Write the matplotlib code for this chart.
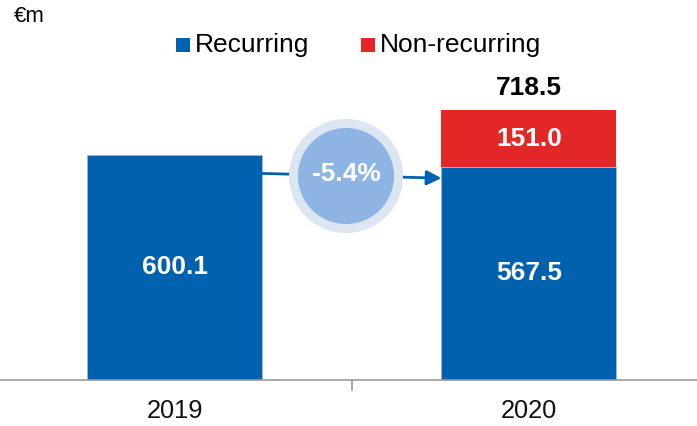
import matplotlib
matplotlib.use("Agg")
import matplotlib.pyplot as plt
from matplotlib.patches import Ellipse, Rectangle

plt.rcParams['font.family'] = ['Liberation Sans', 'DejaVu Sans']

years = ["2019", "2020"]
recurring = [600.1, 567.5]
non_recurring = [0.0, 151.0]
totals = [None, 718.5]
change_label = "-5.4%"

BLUE = "#0061AF"
RED = "#E32726"
W, H = 697, 426

fig = plt.figure(figsize=(W / 100, H / 100), dpi=100)
ax = fig.add_axes([0, 46 / H, 1, 380 / H])
x = list(range(len(years)))
bw = 0.494
ax.bar(x, recurring, width=bw, color=BLUE, edgecolor="#9DB9DD", linewidth=0.6, zorder=2)
ax.bar(x, non_recurring, width=bw, bottom=recurring, color=RED, edgecolor="none", zorder=2)
ax.set_xlim(-0.494, 1.475)
ax.set_ylim(0, 1012)

for s in ["top", "right", "left"]:
    ax.spines[s].set_visible(False)
ax.spines["bottom"].set_color("#999999")
ax.spines["bottom"].set_linewidth(1.2)
ax.set_yticks([])
ax.set_xticks([0.5])
ax.set_xticklabels([""])
ax.tick_params(axis="x", length=8, width=1.2, color="#999999")
for xi, yr in zip(x, years):
    ax.text(xi, -82, yr, ha="center", va="center", fontsize=18.3, color="#111111")

# bar labels
for xi, r, n in zip(x, recurring, non_recurring):
    ax.text(xi, r / 2, f"{r:.1f}", ha="center", va="center", fontsize=19,
            fontweight="bold", color="white", zorder=4)
    if n > 0:
        ax.text(xi, r + n / 2, f"{n:.1f}", ha="center", va="center", fontsize=19,
                fontweight="bold", color="white", zorder=4)
for xi, t in zip(x, totals):
    if t is not None:
        ax.text(xi, t + 58, f"{t:.1f}", ha="center", va="center", fontsize=19,
                fontweight="bold", color="black")

# arrow from 2019 bar to 2020 bar
ax.annotate("", xy=(1 - bw / 2, recurring[1] - 30), xytext=(bw / 2, recurring[0] - 50),
            arrowprops=dict(arrowstyle="-|>", color=BLUE, lw=2, mutation_scale=22,
                            shrinkA=0, shrinkB=0), zorder=3)

# change bubble
cx, cy = 346 / W, 1 - 176 / H
fig.patches.append(Ellipse((cx, cy), 114 / W, 114 / H, transform=fig.transFigure,
                           facecolor="#DCE5F2", edgecolor="none", zorder=5))
fig.patches.append(Ellipse((cx, cy), 96 / W, 96 / H, transform=fig.transFigure,
                           facecolor="#8EB4E3", edgecolor="none", zorder=6))
fig.text(cx, 1 - 174 / H, change_label, ha="center", va="center", fontsize=19,
         fontweight="bold", color="white", zorder=7)

# unit label
fig.text(14 / W, 1 - 17 / H, "€m", ha="left", va="center", fontsize=16, color="black")

# legend
legend_items = [("Recurring", BLUE, 176), ("Non-recurring", RED, 361)]
for label, col, px in legend_items:
    fig.patches.append(Rectangle((px / W, 1 - 52 / H), 14 / W, 14 / H,
                                 transform=fig.transFigure, facecolor=col, edgecolor="none"))
    fig.text((px + 19) / W, 1 - 45 / H, label, ha="left", va="center", fontsize=19,
             color="black")

fig.savefig("out.png", dpi=100)
